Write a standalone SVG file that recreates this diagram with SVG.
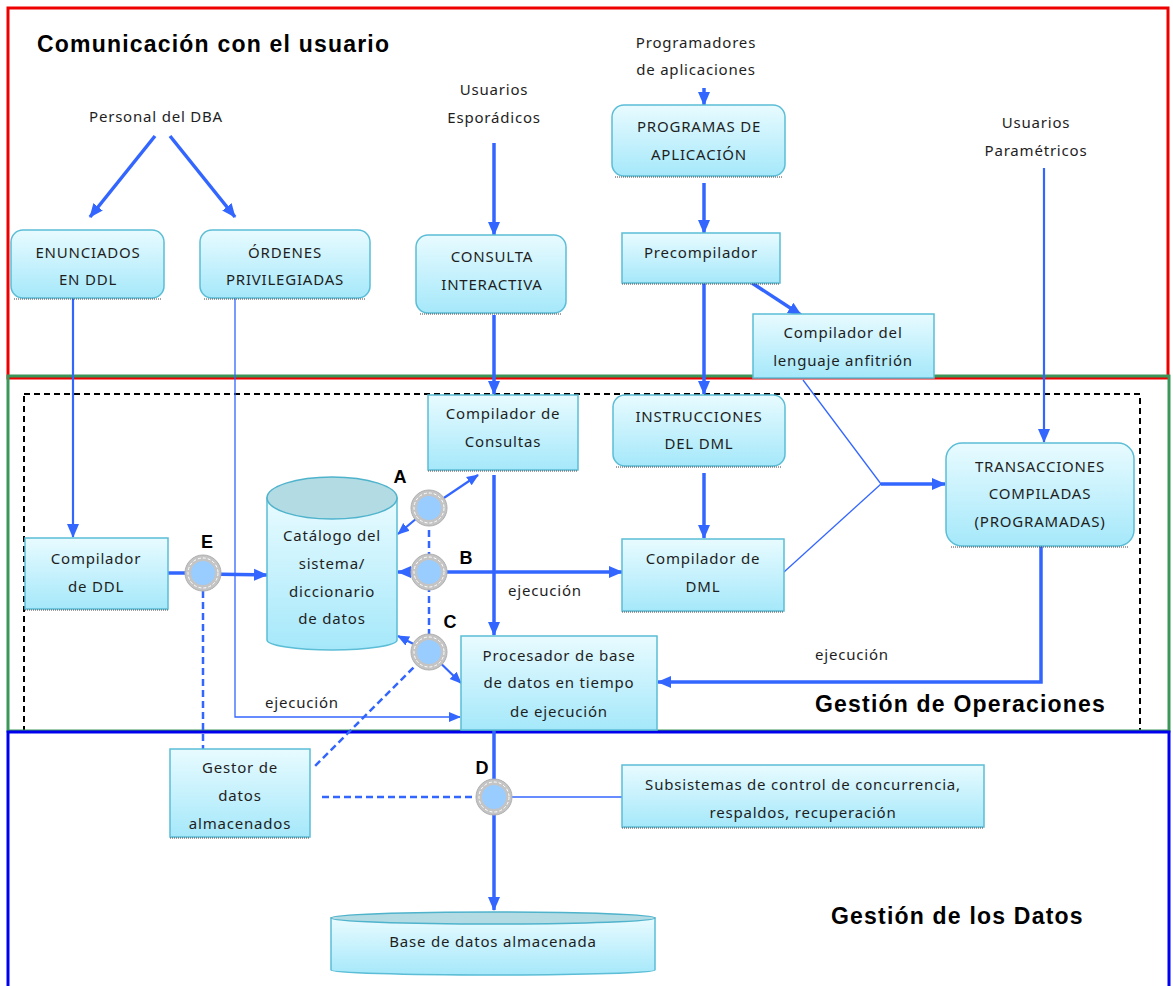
<svg xmlns="http://www.w3.org/2000/svg" width="1173" height="986" viewBox="0 0 1173 986">
<defs>
<linearGradient id="g" x1="0" y1="0" x2="0" y2="1">
<stop offset="0" stop-color="#e8fbff"/>
<stop offset="1" stop-color="#a5e8fa"/>
</linearGradient>
<marker id="ah" markerUnits="userSpaceOnUse" markerWidth="14" markerHeight="14" viewBox="0 0 14 14" refX="13" refY="7" orient="auto">
<path d="M0,1 L14,7 L0,13 z" fill="#3366ff"/>
</marker>
<marker id="as" markerUnits="userSpaceOnUse" markerWidth="12" markerHeight="12" viewBox="0 0 12 12" refX="11" refY="6" orient="auto">
<path d="M0,1 L12,6 L0,11 z" fill="#3366ff"/>
</marker>
<style>
.box{fill:url(#g);stroke:#5bbdd6;stroke-width:1.5}
.sh{stroke:#444;stroke-width:1;stroke-dasharray:1 1;fill:none}
.t{font-family:"Noto Sans","Open Sans",sans-serif;font-size:15px;fill:#1e1e1e;text-anchor:middle;letter-spacing:0.8px}
.h{font-family:"Liberation Sans",Arial,sans-serif;font-size:23px;font-weight:bold;fill:#000;letter-spacing:1.2px}
.l{font-family:"Liberation Sans",Arial,sans-serif;font-size:18px;font-weight:bold;fill:#000;text-anchor:middle}
.k{stroke:#3366ff;stroke-width:3.5;fill:none}
.m{stroke:#3366ff;stroke-width:2.2;fill:none}
.n{stroke:#3366ff;stroke-width:1.3;fill:none}
.d{stroke:#3366ff;stroke-width:2.5;fill:none;stroke-dasharray:7 4}
.ring{fill:#c4c4c4;stroke:#b0b0b0;stroke-width:1}
.wr{fill:none;stroke:#fff;stroke-width:1;stroke-dasharray:3 2}
.core{fill:#99ccff}
.top{fill:#b3dbe4;stroke:#4fb3cc;stroke-width:1.5}
</style>
</defs>
<rect width="1173" height="986" fill="#fff"/>

<g id="frames">
<rect x="24" y="394" width="1116" height="338" fill="none" stroke="#000" stroke-width="2" stroke-dasharray="6 4"/>
<rect x="8" y="8" width="1160" height="370" fill="none" stroke="#ee0000" stroke-width="3"/>
<rect x="8" y="376" width="1161" height="355" fill="none" stroke="#3a9659" stroke-width="3"/>
<rect x="8" y="732" width="1161" height="270" fill="none" stroke="#0000ee" stroke-width="3"/>
<text class="h" x="37" y="52">Comunicación con el usuario</text>
<text class="h" x="815" y="712">Gestión de Operaciones</text>
<text class="h" x="831" y="924">Gestión de los Datos</text>
</g>

<g id="actors">
<text class="t" x="156" y="122">Personal del DBA</text>
<text class="t" x="494" y="95">Usuarios</text>
<text class="t" x="494" y="123">Esporádicos</text>
<text class="t" x="696" y="48">Programadores</text>
<text class="t" x="696" y="75">de aplicaciones</text>
<text class="t" x="1036" y="128">Usuarios</text>
<text class="t" x="1036" y="156">Paramétricos</text>
</g>

<g id="connectors">
<path class="k" d="M155,136 L90,217" marker-end="url(#ah)"/>
<path class="k" d="M170,136 L235,217" marker-end="url(#ah)"/>
<path class="k" d="M494,143 L494,235" marker-end="url(#ah)"/>
<path class="k" d="M704,88 L704,105" marker-end="url(#ah)"/>
<path class="k" d="M704,183 L704,233" marker-end="url(#ah)"/>
<path class="k" d="M752,283 L801,315" marker-end="url(#ah)"/>
<path class="k" d="M704,283 L704,394" marker-end="url(#ah)"/>
<path class="m" d="M73,298 L73,537" marker-end="url(#ah)"/>
<path class="n" d="M235,298 L235,717 L460,717" marker-end="url(#as)"/>
<path class="k" d="M494,315 L494,394" marker-end="url(#ah)"/>
<path class="k" d="M494,475 L494,635" marker-end="url(#ah)"/>
<path class="m" d="M1044,168 L1044,442" marker-end="url(#ah)"/>
<path class="k" d="M704,473 L704,538" marker-end="url(#ah)"/>
<path class="n" d="M803,380 L881,484"/>
<path class="n" d="M784,572 L881,484"/>
<path class="k" d="M881,484 L945,484" marker-end="url(#ah)"/>
<path class="k" d="M1041,546 L1041,682 L658,682" marker-end="url(#ah)"/>
<path class="k" d="M168,573 L190,573"/>
<path class="k" d="M203,574 L267,575" marker-end="url(#ah)"/>
<path class="d" d="M203,591 L203,749"/>
<path class="d" d="M429,508 L429,652"/>
<path class="m" d="M429,508 L478,475" marker-end="url(#as)"/>
<path class="m" d="M429,508 L398,534" marker-end="url(#as)"/>
<path class="k" d="M429,572 L398,572" marker-end="url(#ah)"/>
<path class="k" d="M429,572 L622,572" marker-end="url(#ah)"/>
<path class="m" d="M429,652 L398,636" marker-end="url(#as)"/>
<path class="m" d="M429,652 L461,683" marker-end="url(#as)"/>
<path class="d" d="M429,652 L315,766"/>
<path class="k" d="M494,731 L494,910" marker-end="url(#ah)"/>
<path class="d" d="M494,797 L319,797"/>
<path class="n" d="M494,797 L622,797"/>
<text class="t" x="302" y="708">ejecución</text>
<text class="t" x="545" y="596">ejecución</text>
<text class="t" x="852" y="660">ejecución</text>
</g>

<g id="enunciados">
<rect class="box" x="11" y="230" width="153" height="68" rx="12"/>
<path class="sh" d="M14,299 H161"/>
<text class="t" x="88" y="258">ENUNCIADOS</text>
<text class="t" x="88" y="285">EN DDL</text>
</g>
<g id="ordenes">
<rect class="box" x="200" y="230" width="170" height="68" rx="12"/>
<path class="sh" d="M204,299 H366"/>
<text class="t" x="285" y="258">ÓRDENES</text>
<text class="t" x="285" y="285">PRIVILEGIADAS</text>
</g>
<g id="consulta">
<rect class="box" x="416" y="235" width="150" height="78" rx="12"/>
<path class="sh" d="M420,314 H562"/>
<text class="t" x="492" y="262">CONSULTA</text>
<text class="t" x="492" y="290">INTERACTIVA</text>
</g>
<g id="programas">
<rect class="box" x="612" y="105" width="173" height="71" rx="12"/>
<path class="sh" d="M615,177 H782"/>
<text class="t" x="699" y="132">PROGRAMAS DE</text>
<text class="t" x="699" y="160">APLICACIÓN</text>
</g>
<g id="precompilador">
<rect class="box" x="622" y="233" width="158" height="50"/>
<path class="sh" d="M622,284 H780"/>
<text class="t" x="701" y="258">Precompilador</text>
</g>
<g id="anfitrion">
<rect class="box" x="753" y="314" width="181" height="64"/>
<text class="t" x="843" y="338">Compilador del</text>
<text class="t" x="843" y="366">lenguaje anfitrión</text>
</g>
<g id="consultas">
<rect class="box" x="428" y="395" width="150" height="75"/>
<path class="sh" d="M428,471 H578"/>
<text class="t" x="503" y="419">Compilador de</text>
<text class="t" x="503" y="447">Consultas</text>
</g>
<g id="instrucciones">
<rect class="box" x="613" y="395" width="172" height="71" rx="12"/>
<path class="sh" d="M616,467 H782"/>
<text class="t" x="699" y="422">INSTRUCCIONES</text>
<text class="t" x="699" y="449">DEL DML</text>
</g>
<g id="transacciones">
<rect class="box" x="946" y="443" width="188" height="103" rx="16"/>
<path class="sh" d="M951,547 H1129"/>
<text class="t" x="1040" y="472">TRANSACCIONES</text>
<text class="t" x="1040" y="499">COMPILADAS</text>
<text class="t" x="1040" y="527">(PROGRAMADAS)</text>
</g>
<g id="ddl">
<rect class="box" x="25" y="538" width="143" height="71"/>
<path class="sh" d="M25,610 H168"/>
<text class="t" x="96" y="564">Compilador</text>
<text class="t" x="96" y="592">de DDL</text>
</g>
<g id="dml">
<rect class="box" x="622" y="539" width="162" height="72"/>
<path class="sh" d="M622,612 H784"/>
<text class="t" x="703" y="564">Compilador de</text>
<text class="t" x="703" y="592">DML</text>
</g>
<g id="catalogo">
<path class="box" d="M267,498 L267,640 A65,10 0 0 0 397,640 L397,498 Z"/>
<ellipse class="top" cx="332" cy="498" rx="65" ry="21"/>
<text class="t" x="332" y="541">Catálogo del</text>
<text class="t" x="332" y="569">sistema/</text>
<text class="t" x="332" y="597">diccionario</text>
<text class="t" x="332" y="624">de datos</text>
</g>
<g id="procesador">
<rect class="box" x="461" y="636" width="196" height="94"/>
<text class="t" x="559" y="661">Procesador de base</text>
<text class="t" x="559" y="688">de datos en tiempo</text>
<text class="t" x="559" y="717">de ejecución</text>
</g>
<g id="gestor">
<rect class="box" x="170" y="749" width="140" height="88"/>
<path class="sh" d="M170,838 H310"/>
<text class="t" x="240" y="773">Gestor de</text>
<text class="t" x="240" y="801">datos</text>
<text class="t" x="240" y="829">almacenados</text>
</g>
<g id="subsistemas">
<rect class="box" x="622" y="765" width="362" height="62"/>
<path class="sh" d="M622,828 H984"/>
<text class="t" x="803" y="790">Subsistemas de control de concurrencia,</text>
<text class="t" x="803" y="818">respaldos, recuperación</text>
</g>
<g id="basedatos">
<path class="box" d="M331,918 L331,970 A162,5 0 0 0 655,970 L655,918 Z"/>
<ellipse class="top" cx="493" cy="918" rx="162" ry="6"/>
<text class="t" x="493" y="947">Base de datos almacenada</text>
</g>

<g id="nodeA">
<circle class="ring" cx="429" cy="508" r="18"/><circle class="wr" cx="429" cy="508" r="15"/><circle class="core" cx="429" cy="508" r="12"/>
<text class="l" x="400" y="483">A</text>
</g>
<g id="nodeB">
<circle class="ring" cx="429" cy="572" r="18"/><circle class="wr" cx="429" cy="572" r="15"/><circle class="core" cx="429" cy="572" r="12"/>
<text class="l" x="466" y="564">B</text>
</g>
<g id="nodeC">
<circle class="ring" cx="429" cy="652" r="18"/><circle class="wr" cx="429" cy="652" r="15"/><circle class="core" cx="429" cy="652" r="12"/>
<text class="l" x="450" y="628">C</text>
</g>
<g id="nodeD">
<circle class="ring" cx="494" cy="797" r="18"/><circle class="wr" cx="494" cy="797" r="15"/><circle class="core" cx="494" cy="797" r="12"/>
<text class="l" x="482" y="774">D</text>
</g>
<g id="nodeE">
<circle class="ring" cx="203" cy="573" r="18"/><circle class="wr" cx="203" cy="573" r="15"/><circle class="core" cx="203" cy="573" r="12"/>
<text class="l" x="207" y="548">E</text>
</g>
</svg>
